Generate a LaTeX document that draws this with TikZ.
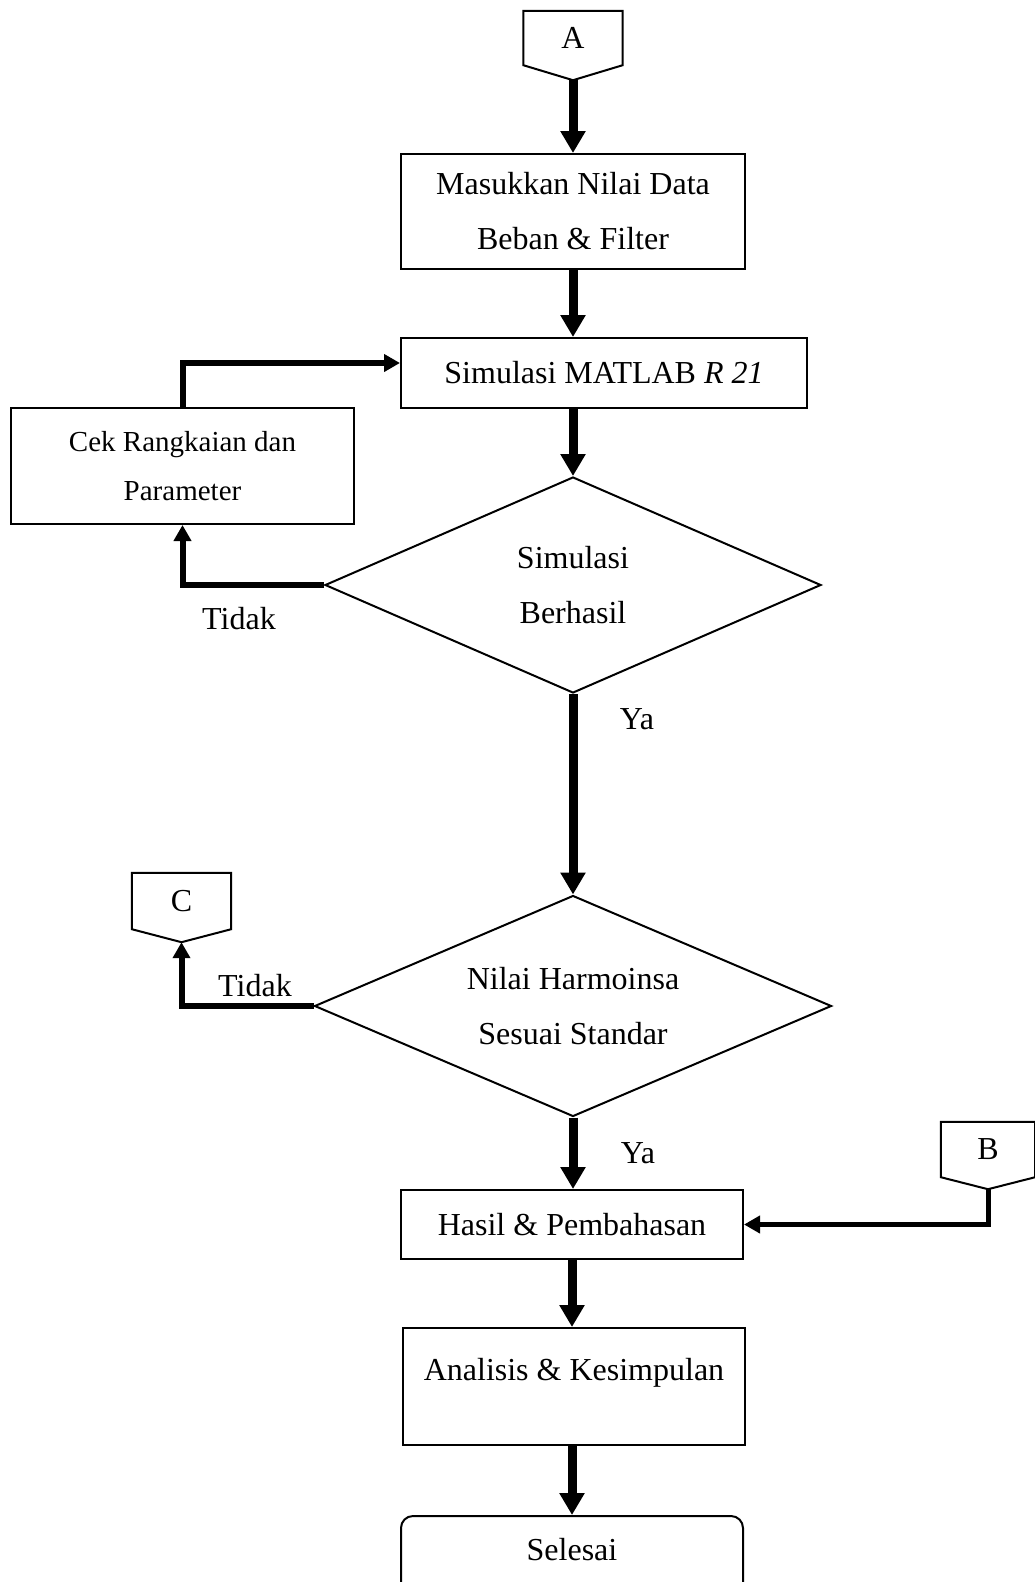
\documentclass[tikz,border=0pt]{standalone}
\usepackage{fontspec}
\setmainfont{Liberation Serif}
\usetikzlibrary{
    calc,
    shapes.geometric,
    arrows.meta
}
\newcommand{\OffPage}[2]{%
  \draw[line width=2pt] (#1.south west) -- (#1.north west) -- (#1.north east)
    -- (#1.south east) -- ($(#1.south)+(0,#2)$) coordinate (#1tip) -- cycle;
}

\begin{document}
\begin{tikzpicture}[x=1pt,y=-1pt,
  box/.style={draw,line width=2pt,rectangle,inner sep=0pt,align=center,
    font=\fontsize{32}{55}\selectfont},
  decision/.style={draw,line width=2pt,diamond,aspect=2.3,inner sep=0pt,
    align=center,font=\fontsize{32}{55}\selectfont},
  offpage/.style={inner sep=0pt,font=\fontsize{32}{38}\selectfont},
  flow/.style={line width=9pt,-{Triangle[width=24pt,length=22pt]}},
  sideflow/.style={line width=6pt,-{Triangle[width=17pt,length=16pt]}},
  lbl/.style={font=\fontsize{32}{38}\selectfont}]
\useasboundingbox (0,0) rectangle (1034,1582);

\node[offpage,minimum width=99pt,minimum height=54pt] (conA) at (573,38) {A};
\OffPage{conA}{15}
\node[box,minimum width=344pt,minimum height=115pt] (data) at (573,211.5)
  {Masukkan Nilai Data\\Beban \& Filter};
\node[box,minimum width=406pt,minimum height=70pt] (sim) at (604,373)
  {Simulasi MATLAB \textit{R 21}};
\node[box,minimum width=343pt,minimum height=116pt,
  font=\fontsize{29}{49}\selectfont] (cek) at (182.5,466)
  {Cek Rangkaian dan\\Parameter};
\node[decision,minimum width=496pt,minimum height=216pt,text depth=0pt]
  (dec1) at (573,585) {Simulasi\\Berhasil};
\node[decision,minimum width=517pt,minimum height=221pt,text depth=0pt]
  (dec2) at (573,1006) {Nilai Harmoinsa\\Sesuai Standar};

\node[offpage,minimum width=99pt,minimum height=56pt] (conC) at (181.5,901) {C};
\OffPage{conC}{13}
\node[offpage,minimum width=94pt,minimum height=55pt] (conB) at (988,1149.5) {B};
\OffPage{conB}{12}

\node[box,minimum width=342pt,minimum height=69pt] (hasil) at (572,1224.5)
  {Hasil \& Pembahasan};
\node[box,minimum width=342pt,minimum height=117pt,text height=22pt,
  text depth=35pt] (analisis) at (574,1386.5) {Analisis \& Kesimpulan};
\node[box,rounded corners=12pt,minimum width=342pt,minimum height=84pt,
  text height=22pt,text depth=18pt] (end) at (572,1558) {Selesai};

% branch labels
\node[lbl] (no1) at (239,619) {Tidak};
\node[lbl] (yes1) at (637,719) {Ya};
\node[lbl] (no2) at (255,986) {Tidak};
\node[lbl] (yes2) at (638,1153) {Ya};

\draw[flow] (conAtip) -- (conAtip |- data.north);
\draw[flow] (data.south) -- (data.south |- sim.north);
\draw[flow] (data.south |- sim.south) -- (dec1.north);
\draw[sideflow] (dec1.west) -| (cek.south);
\draw[sideflow] (cek.north) |- ($(sim.west)+(0,-10)$);
\draw[flow] (dec1.south) -- (dec2.north);
\draw[sideflow] (dec2.west) -| (conCtip);
\draw[flow] (dec2.south) -- (dec2.south |- hasil.north);
\draw[sideflow,line width=5pt] (conBtip) |- (hasil.east);
\draw[flow] (hasil.south) -- (hasil.south |- analisis.north);
\draw[flow] (hasil.south |- analisis.south) -- (hasil.south |- end.north);
\end{tikzpicture}
\end{document}
